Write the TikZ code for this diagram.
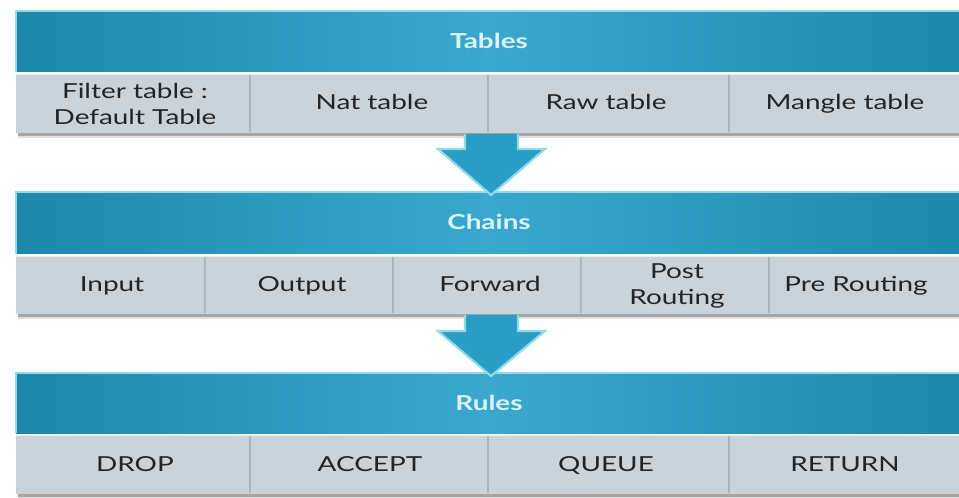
\documentclass[tikz,border=0pt]{standalone}
\usepackage{fontspec}
\setmainfont[FakeStretch=1.35]{Lato}
\definecolor{barDark}{HTML}{1C88AB}
\definecolor{barLight}{HTML}{3AA8CE}
\definecolor{rowFill}{HTML}{C9D3D9}
\definecolor{edgeCyan}{HTML}{8FDCE6}
\definecolor{arrowFill}{HTML}{2A9DC6}
\definecolor{hdrText}{HTML}{DDF2F6}
\definecolor{cellText}{HTML}{222428}
\definecolor{divLine}{HTML}{A9B5BC}
\tikzset{
  celltext/.style={text=cellText, align=center, inner sep=0pt,
    font=\fontsize{15.5}{20}\selectfont},
  onecell/.style={celltext, anchor=base},
  hdrtext/.style={text=hdrText, inner sep=0pt, anchor=base,
    font=\fontsize{15.5}{18}\selectfont\bfseries},
  divider/.style={draw=divLine, line width=1pt},
  arrowshape/.style={fill=arrowFill, draw=edgeCyan, line width=1.6pt, line join=miter},
}
\newcommand{\band}[3]{% top y of bar, top y of row, bottom y of row
  \shade[left color=barDark, right color=barDark, middle color=barLight] (16,#1) rectangle (962,#2-2);
  \draw[edgeCyan, line width=1.5pt] (16,#2-2) -- (16,#1) -- (962,#1);
  \fill[black, opacity=0.35] (18,#3) rectangle (962,#3+3);
  \fill[black, opacity=0.12] (18,#3+3) rectangle (962,#3+5);
  \fill[rowFill] (16,#2) rectangle (962,#3);
  \draw[white, opacity=0.6, line width=0.8pt] (16,#2) -- (962,#2);
}
\begin{document}
\begin{tikzpicture}[x=0.75pt, y=-0.75pt]
\useasboundingbox (0,0) rectangle (959,498);
\fill[white] (0,0) rectangle (959,498);

% ---- Tables band ----
\band{11}{74}{133}
\foreach \x in {250,488,729} \draw[divider] (\x,75) -- (\x,132);
\node[hdrtext] (tables) at (489,49) {Tables};
\node[celltext] (filter) at (135,104) {Filter table :\\Default Table};
\node[onecell] (nat) at (372,110) {Nat table};
\node[onecell] (raw) at (606,110) {Raw table};
\node[onecell] (mangle) at (845,110) {Mangle table};

% ---- Chains band ----
\band{192}{256}{314}
\foreach \x in {205,393,581,769} \draw[divider] (\x,257) -- (\x,313);
\node[hdrtext] (chains) at (489,230) {Chains};
\node[onecell] (input) at (112,292) {Input};
\node[onecell] (output) at (302,292) {Output};
\node[onecell] (forward) at (490,292) {Forward};
\node[celltext] (post) at (677,286) {Post\\Routing};
\node[onecell] (pre) at (856,292) {Pre Routing};

% ---- Rules band ----
\band{373}{435}{494}
\foreach \x in {250,488,729} \draw[divider] (\x,436) -- (\x,493);
\node[hdrtext] (rules) at (489,411) {Rules};
\node[onecell] (drop) at (135,471) {DROP};
\node[onecell] (accept) at (370,471) {ACCEPT};
\node[onecell] (queue) at (606,471) {QUEUE};
\node[onecell] (return) at (845,471) {RETURN};

% ---- Arrows ----
\filldraw[arrowshape] (465,134) -- (465,149) -- (438,149) -- (491,195) -- (545,149) -- (518,149) -- (518,134);
\filldraw[arrowshape] (465,315) -- (465,331) -- (438,331) -- (491,376) -- (545,331) -- (518,331) -- (518,315);
\end{tikzpicture}
\end{document}
